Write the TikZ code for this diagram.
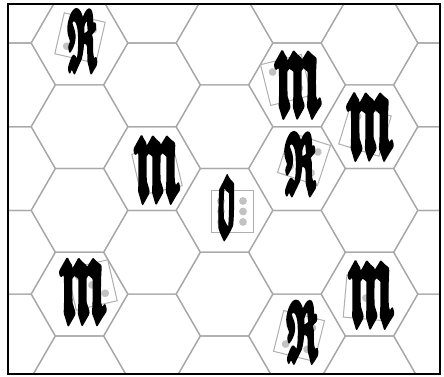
\documentclass[tikz,border=0pt]{standalone}
\usepackage{amsfonts}
\definecolor{hexgray}{HTML}{A8A8A8}
\definecolor{diegray}{HTML}{AFAFAF}
\definecolor{pipgray}{HTML}{C2C2C2}
\tikzset{
  hexline/.style={draw=hexgray, line width=1.2pt, line join=miter},
  diebox/.style={draw=diegray, line width=1pt, fill=white},
  pipdot/.style={fill=pipgray},
  letter/.style={inner sep=0pt, outer sep=0pt, text=black},
  frame/.style={draw=black, line width=2.6pt}
}
\newcommand\heavy[2]{\special{pdf:literal direct 2 Tr #1 w 1 j}#2\special{pdf:literal direct 0 Tr}}
\newcommand\gl[2][0.5]{\heavy{#1}{{\boldmath$\mathfrak{#2}$}}}
\newcommand\gamedie[5]{%
  \begin{scope}[shift={(#2,#3)}, rotate=#4]
    \coordinate (#1) at (0,0);
    \draw[diebox] (-21,-21) rectangle (21,21);
    \foreach \px/\py in {#5} {\fill[pipdot] (\px,\py) circle (3.9);}
  \end{scope}}
\begin{document}
\begin{tikzpicture}[x=1pt,y=-1pt]
\useasboundingbox (0,0) rectangle (444,376);
\fill[white] (0,0) rectangle (444,376);
\begin{scope}
  \clip (8,4) rectangle (440,374);
  \def\s{48.3}\def\h{41.85}
  \foreach \k in {-1,1,3,5} {
    \foreach \j in {-1,...,5} {
      \pgfmathsetmacro\cx{79.5+72.5*\k}
      \pgfmathsetmacro\cy{1.15+83.7*\j}
      \draw[hexline] (\cx+\s,\cy) -- (\cx+0.5*\s,\cy+\h) -- (\cx-0.5*\s,\cy+\h) -- (\cx-\s,\cy) -- (\cx-0.5*\s,\cy-\h) -- (\cx+0.5*\s,\cy-\h) -- cycle;
    }
  }
  \foreach \k in {0,2,4} {
    \foreach \j in {-1,...,5} {
      \pgfmathsetmacro\cx{79.5+72.5*\k}
      \pgfmathsetmacro\cy{43+83.7*\j}
      \draw[hexline] (\cx+\s,\cy) -- (\cx+0.5*\s,\cy+\h) -- (\cx-0.5*\s,\cy+\h) -- (\cx-\s,\cy) -- (\cx-0.5*\s,\cy-\h) -- (\cx+0.5*\s,\cy-\h) -- cycle;
    }
  }
\end{scope}
% dice
\gamedie{d1}{80}{38}{-13}{11/-11,-11/11}
\gamedie{d2}{286}{80}{14}{-11/-11,11/11}
\gamedie{d3}{365}{130}{-17}{-11/-11,11/11}
\gamedie{d4}{304}{159}{-18}{-11/-11,11/-11,0/0,-11/11,11/11}
\gamedie{d5}{157}{170}{13}{}
\gamedie{d6}{232}{211.5}{0}{-11/-10.5,-11/0,-11/10.5,11/-10.5,11/0,11/10.5}
\gamedie{d7}{92}{285}{13}{-11/-11,0/0,11/11}
\gamedie{d8}{366}{298}{-5}{0/0}
\gamedie{d9}{299}{336}{-14}{-11/-11,11/-11,-11/11,11/11}
% letters
\node[letter] (l1) at (82,40) {\resizebox{28pt}{57pt}{\gl[0.9]{R}}};
\node[letter] (l2) at (298,83) {\resizebox{47pt}{60pt}{\gl{m}}};
\node[letter] (l3) at (370,125) {\resizebox{47pt}{60pt}{\gl{m}}};
\node[letter] (l4) at (300,163) {\resizebox{30pt}{57pt}{\gl[0.9]{R}}};
\node[letter] (l5) at (157,168) {\resizebox{46pt}{60pt}{\gl{m}}};
\node[letter] (l6) at (226,206) {\resizebox{22pt}{59pt}{\gl[0.3]{o}}};
\node[letter] (l7) at (83,290) {\resizebox{47pt}{59pt}{\gl{m}}};
\node[letter] (l8) at (371,293) {\resizebox{46pt}{60pt}{\gl{m}}};
\node[letter] (l9) at (302,331) {\resizebox{30pt}{56pt}{\gl[0.9]{R}}};
% frame
\draw[frame] (8,4) rectangle (440,374);
\end{tikzpicture}
\end{document}
